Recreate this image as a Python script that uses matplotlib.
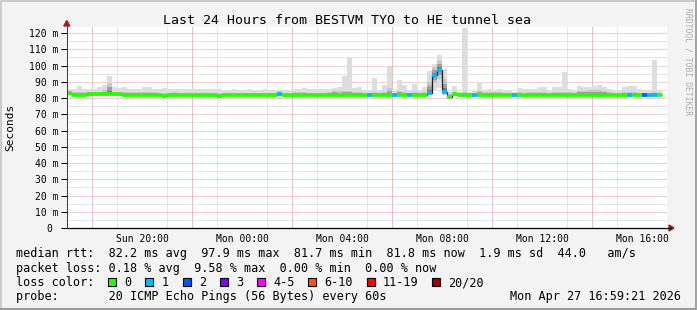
import numpy as np
import matplotlib
matplotlib.use('Agg')
import matplotlib.pyplot as plt
from matplotlib.lines import Line2D
from matplotlib.patches import Rectangle, Polygon

W, H = 697, 310
MONO = 'DejaVu Sans Mono'

title = 'Last 24 Hours from BESTVM TYO to HE tunnel sea'

# x axis: hours after Sun 17:00, one bin = 12 minutes
time_labels = ['Sun 20:00', 'Mon 00:00', 'Mon 04:00', 'Mon 08:00', 'Mon 12:00', 'Mon 16:00']
label_hours = [3, 7, 11, 15, 19, 23]
major_hours = [1, 5, 9, 13, 17, 21]
bin_hours = 0.2

ytick_values = [0, 10, 20, 30, 40, 50, 60, 70, 80, 90, 100, 110, 120]
ytick_labels = ['0 ', '10 m', '20 m', '30 m', '40 m', '50 m', '60 m', '70 m',
                '80 m', '90 m', '100 m', '110 m', '120 m']

nan = np.nan
# median rtt per bin (ms)
median = [82.8, 81.8, 81.8, 81.8, 82.2, 82.5, 82.5, 82.5, 82.7, 82.5,
          82.5, 81.8, 81.8, 81.8, 81.8, 81.8, 81.8, 81.8, 81.8, 81.3,
          81.8, 81.8, 81.8, 81.8, 81.8, 81.8, 81.8, 81.8, 81.8, 81.8,
          81.3, 81.8, 81.8, 81.8, 81.8, 81.8, 81.8, 81.8, 81.8, 81.8,
          81.8, 81.8, 82.3, 81.9, 81.9, 81.9, 81.9, 81.9, 81.9, 81.9,
          81.9, 81.9, 81.9, 81.9, 81.6, 81.9, 81.9, 81.9, 82.0, 82.0,
          81.6, 82.0, 82.0, 82.0, 82.0, 81.8, 82.0, 82.0, 81.7, 82.0,
          82.0, 81.8, 83.0, 94.0, 97.5, 84.0, 80.9, 82.2, 82.0, 81.8,
          81.8, 81.6, 81.9, 81.9, 81.9, 81.9, 81.9, 81.9, 81.9, 81.8,
          81.6, 81.6, 81.9, 81.9, 81.9, 81.9, 81.9, 81.9, 81.9, 81.9,
          82.0, 82.0, 82.0, 82.0, 82.0, 82.0, 82.0, 82.0, 81.7, 81.7,
          81.7, 82.0, 82.0, 82.0, 82.0, 81.8, 81.8, 81.8, 82.0, nan]

# slowest ping per bin (ms)
smoke_max = [85.5, 85.5, 87.4, 85.5, 85.8, 85.5, 86.6, 88.0, 93.5, 86.5,
             86.3, 87.0, 85.8, 85.5, 85.5, 87.0, 86.5, 85.8, 85.3, 86.0,
             85.3, 85.8, 85.3, 85.3, 85.3, 85.6, 85.3, 85.3, 85.3, 85.5,
             85.5, 85.0, 85.0, 85.3, 85.0, 85.0, 85.5, 85.0, 85.0, 85.3,
             85.0, 85.0, 84.5, 85.0, 85.0, 85.6, 85.6, 86.0, 85.5, 85.3,
             85.3, 85.4, 85.4, 86.0, 87.0, 93.7, 105.4, 86.0, 86.8, 84.7,
             84.7, 92.4, 84.7, 88.0, 99.2, 84.7, 91.0, 87.9, 84.7, 88.8,
             84.2, 86.8, 96.4, 101.0, 106.3, 97.6, 83.7, 87.4, 84.0, 123.0,
             84.0, 84.5, 89.8, 85.0, 85.3, 85.2, 85.3, 85.0, 85.0, 83.5,
             86.3, 85.5, 85.6, 85.6, 86.5, 87.0, 85.0, 87.0, 87.0, 96.2,
             85.6, 85.2, 87.4, 87.0, 87.0, 87.4, 88.0, 87.0, 85.5, 85.2,
             85.2, 86.5, 87.4, 87.4, 85.5, 85.2, 85.2, 103.4, 85.2, nan]

# upper edge of the dense part of the smoke (ms)
smoke_inner = [83.5, 83.5, 84.0, 83.5, 83.5, 83.8, 84.0, 85.0, 89.0, 84.0,
               83.8, 83.8, 83.5, 83.5, 83.5, 84.0, 83.8, 83.5, 83.3, 83.3,
               83.3, 83.5, 83.3, 83.3, 83.3, 83.3, 83.3, 83.3, 83.3, 83.3,
               83.3, 83.3, 83.3, 83.3, 83.3, 83.3, 83.3, 83.3, 83.3, 83.3,
               83.3, 83.3, 84.5, 83.3, 83.3, 83.5, 83.5, 83.5, 83.3, 83.3,
               83.3, 83.3, 83.5, 84.5, 84.5, 84.5, 84.5, 83.5, 83.5, 83.3,
               83.3, 84.0, 83.3, 84.0, 86.0, 83.3, 84.5, 84.0, 83.3, 84.0,
               83.3, 84.0, 90.0, 99.0, 103.0, 92.0, 82.5, 84.0, 83.3, 83.5,
               83.3, 83.3, 84.5, 83.5, 83.5, 83.5, 83.5, 83.3, 83.3, 83.0,
               83.5, 83.3, 83.5, 83.5, 83.5, 83.5, 83.3, 83.5, 83.5, 84.0,
               83.5, 83.3, 84.5, 84.5, 85.0, 85.0, 85.0, 84.5, 83.5, 83.3,
               83.3, 83.5, 84.0, 84.0, 83.3, 83.3, 83.3, 83.5, 83.3, nan]

# fastest ping per bin (ms)
smoke_min = [81.3, 81.0, 81.0, 81.0, 81.3, 81.5, 81.5, 81.5, 81.6, 81.5,
             81.5, 81.0, 81.0, 81.0, 81.0, 81.0, 81.0, 81.0, 81.0, 80.8,
             81.0, 81.0, 81.0, 81.0, 81.0, 81.0, 81.0, 81.0, 81.0, 81.0,
             80.8, 81.0, 81.0, 81.0, 81.0, 81.0, 81.0, 81.0, 81.0, 81.0,
             81.0, 81.0, 81.3, 81.0, 81.0, 81.0, 81.0, 81.0, 81.0, 81.0,
             81.0, 81.0, 81.0, 81.0, 80.9, 81.0, 81.0, 81.0, 81.2, 81.2,
             81.0, 81.2, 81.2, 81.2, 81.2, 81.0, 81.2, 81.2, 81.0, 81.2,
             81.2, 81.0, 82.0, 85.0, 86.0, 82.0, 80.3, 81.3, 81.2, 81.0,
             81.0, 81.0, 81.0, 81.0, 81.0, 81.0, 81.0, 81.0, 81.0, 81.0,
             80.9, 80.9, 81.0, 81.0, 81.0, 81.0, 81.0, 81.0, 81.0, 81.0,
             81.2, 81.2, 81.2, 81.2, 81.2, 81.2, 81.2, 81.2, 81.0, 81.0,
             81.0, 81.2, 81.2, 81.2, 81.2, 81.0, 81.0, 81.0, 81.2, nan]

# lost pings per bin (of 20)
loss = [0, 0, 0, 0, 0, 0, 0, 0, 0, 0,
        0, 0, 0, 0, 0, 0, 0, 0, 0, 0,
        0, 0, 0, 0, 0, 0, 0, 0, 0, 0,
        0, 0, 0, 0, 0, 0, 0, 0, 0, 0,
        0, 0, 1, 0, 0, 0, 0, 0, 0, 0,
        0, 0, 0, 0, 0, 0, 0, 0, 0, 0,
        1, 0, 0, 0, 0, 1, 0, 0, 1, 0,
        0, 0, 1, 1, 1, 1, 0, 0, 0, 0,
        0, 1, 0, 0, 0, 0, 0, 0, 0, 1,
        0, 0, 0, 0, 0, 0, 0, 0, 0, 0,
        0, 0, 0, 0, 0, 0, 0, 0, 0, 0,
        0, 0, 1, 0, 0, 2, 1, 1, 0, 0]

loss_labels = ['0', '1', '2', '3', '4-5', '6-10', '11-19', '20/20']
loss_colors = ['#26ff00', '#00b8ff', '#0059ff', '#7e00ff', '#ff00ff', '#ff5500', '#ff0000', '#a10000']
loss_upper = [0, 1, 2, 3, 5, 10, 19, 20]

line_rtt = 'median rtt:  82.2 ms avg  97.9 ms max  81.7 ms min  81.8 ms now  1.9 ms sd  44.0   am/s'
line_loss = 'packet loss: 0.18 % avg  9.58 % max  0.00 % min  0.00 % now'
line_probe = 'probe:       20 ICMP Echo Pings (56 Bytes) every 60s'
stamp = 'Mon Apr 27 16:59:21 2026'


def fx(x):
    return x / W


def fy(y):
    return 1 - y / H


def loss_color(n):
    for up, c in zip(loss_upper, loss_colors):
        if n <= up:
            return c
    return loss_colors[-1]


med = np.array(median)
mx = np.array(smoke_max)
mn = np.array(smoke_min)
inner = np.array(smoke_inner)
ok = ~np.isnan(med)
left = np.arange(len(med)) * bin_hours

fig = plt.figure(figsize=(W / 100, H / 100), dpi=100, facecolor='#f3f3f3')
ax = fig.add_axes([fx(67), fy(228), fx(600), 201 / H])
ax.set_facecolor('#ffffff')
ax.set_xlim(0, 24)
ax.set_ylim(0, 123.7)

# smoke
ax.bar(left[ok], (mx - mn)[ok], bottom=mn[ok], width=bin_hours, align='edge',
       color='#dddddd', edgecolor='none', zorder=2)
for f, c in [(1.0, '#c6c6c6'), (0.6, '#a0a0a0'), (0.3, '#787878')]:
    lo = med - (med - mn) * 0.5 * f
    hi = med + (inner - med) * f
    ax.bar(left[ok], (hi - lo)[ok], bottom=lo[ok], width=bin_hours, align='edge',
           color=c, edgecolor='none', zorder=2.1)

# median line, coloured by loss
n_ok = int(ok.sum())
edges = np.arange(n_ok + 1) * bin_hours
ax.stairs(med[:n_ok], edges, baseline=None, color='#202020', lw=0.9, zorder=3)
cols = [loss_color(n) for n in np.array(loss)[ok]]
ax.hlines(med[ok], left[ok], left[ok] + bin_hours, colors=cols, lw=2.7, zorder=4)

# grid
dots = (0, (1, 1))
ax.set_xticks(label_hours)
ax.set_xticklabels(time_labels, family=MONO, fontsize=7)
ax.set_xticks(np.arange(1, 24), minor=True)
ax.set_yticks(ytick_values)
ax.set_yticklabels(ytick_labels, family=MONO, fontsize=7)
ax.set_yticks(np.arange(5, 121, 10), minor=True)
ax.grid(axis='x', which='minor', color='#cccccc', ls=dots, lw=0.72)
ax.grid(axis='y', which='minor', color='#cccccc', ls=dots, lw=0.72)
ax.grid(axis='y', which='major', color='#e6a3a3', ls=dots, lw=0.72)
for h in major_hours:
    ax.axvline(h, color='#e6a3a3', ls=dots, lw=0.72, zorder=0.6)
ax.set_axisbelow(True)
ax.tick_params(axis='x', which='both', length=0, pad=4)
ax.tick_params(axis='y', which='major', length=4, width=0.72, pad=2, direction='out')
ax.tick_params(axis='y', which='minor', length=0)
for s in ['top', 'right', 'bottom']:
    ax.spines[s].set_visible(False)
ax.spines['left'].set_color('#404040')
ax.spines['left'].set_linewidth(0.72)

# axis lines with arrows
fig.add_artist(Line2D([fx(67), fx(671)], [fy(228), fy(228)], color='black', lw=0.9))
fig.add_artist(Line2D([fx(66.8), fx(66.8)], [fy(228), fy(24)], color='#404040', lw=0.72))
fig.add_artist(Polygon([[fx(669), fy(225)], [fx(674), fy(228)], [fx(669), fy(231)]],
                       closed=True, color='#a02020', transform=fig.transFigure))
fig.add_artist(Polygon([[fx(63.8), fy(26)], [fx(66.8), fy(20.5)], [fx(69.8), fy(26)]],
                       closed=True, color='#a02020', transform=fig.transFigure))

# texts
fig.text(fx(347), fy(24.3), title, ha='center', va='baseline', fontsize=9.5, family=MONO)
fig.text(fx(10), fy(127), 'Seconds', rotation=90, ha='center', va='center', fontsize=8, family=MONO)
fig.text(fx(688), fy(62), 'RRDTOOL / TOBI OETIKER', rotation=270, ha='center', va='center',
         fontsize=5.8, family=MONO, color='#aaaaaa')

fs = 8.5
cw = 7.08
fig.text(fx(16), fy(257.5), line_rtt, ha='left', va='baseline', fontsize=fs, family=MONO)
fig.text(fx(16), fy(271.8), line_loss, ha='left', va='baseline', fontsize=fs, family=MONO)
fig.text(fx(16), fy(286), 'loss color:', ha='left', va='baseline', fontsize=fs, family=MONO)
bx = 108.3
for lab, c in zip(loss_labels, loss_colors):
    fig.add_artist(Rectangle((fx(bx), fy(286)), fx(8), 8 / H, facecolor=c, edgecolor='black',
                             lw=0.8, transform=fig.transFigure))
    fig.text(fx(bx + 16), fy(286), lab, ha='left', va='baseline', fontsize=fs, family=MONO)
    bx += 30.1 + cw * len(lab)
fig.text(fx(16), fy(300.3), line_probe, ha='left', va='baseline', fontsize=fs, family=MONO)
fig.text(fx(681), fy(300.3), stamp, ha='right', va='baseline', fontsize=fs, family=MONO)

# frame
fig.add_artist(Line2D([0, 1], [fy(0.5), fy(0.5)], color='#cbcbcb', lw=1.5))
fig.add_artist(Line2D([fx(0.5), fx(0.5)], [0, 1], color='#cbcbcb', lw=1.5))
fig.add_artist(Line2D([0, 1], [fy(308.8), fy(308.8)], color='#9a9a9a', lw=2.2))
fig.add_artist(Line2D([fx(695.8), fx(695.8)], [0, 1], color='#a5a5a5', lw=2.2))

fig.savefig('out.png', dpi=100, facecolor=fig.get_facecolor())
